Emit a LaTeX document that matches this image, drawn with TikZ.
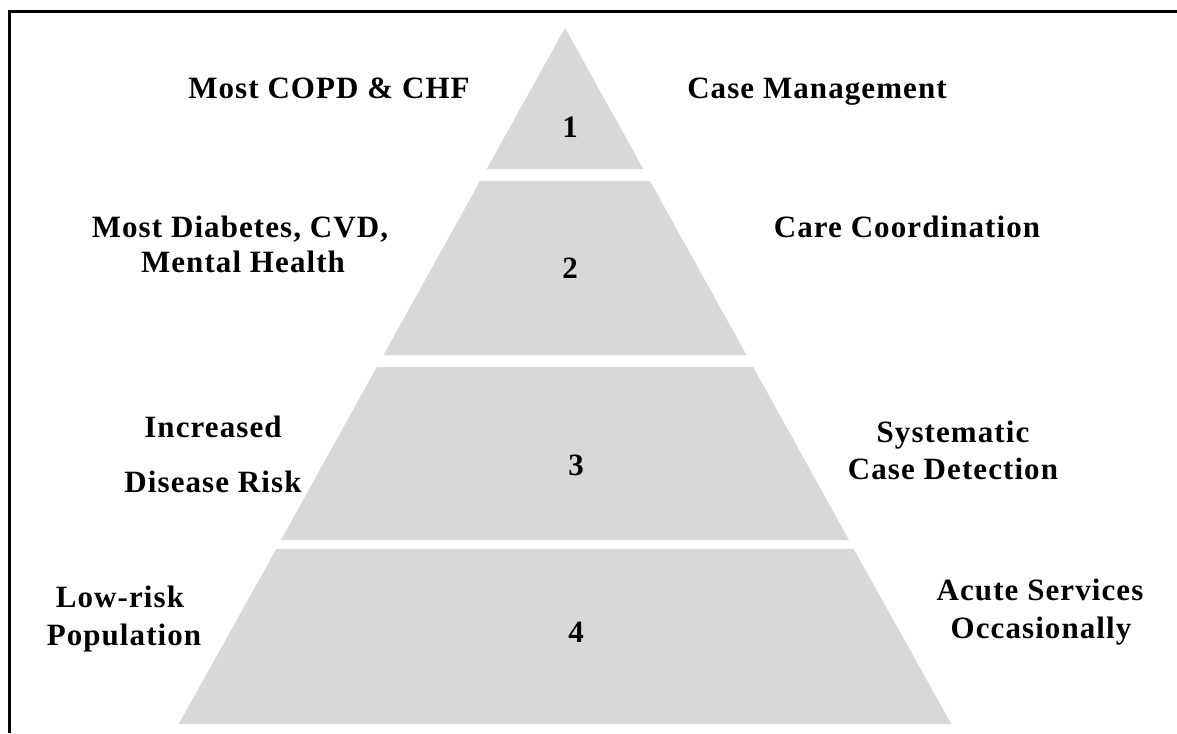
\documentclass[tikz,border=0pt]{standalone}
\usepackage{fontspec}
\setmainfont{Liberation Serif}[LetterSpace=3.5]
\definecolor{tierfill}{RGB}{216,216,216}
\begin{document}
\begin{tikzpicture}[x=1pt,y=-1pt,
  tier/.style={fill=tierfill},
  lbl/.style={anchor=base,inner sep=0pt,font=\fontsize{31}{37}\selectfont\bfseries},
  num/.style={lbl}]
\useasboundingbox (0,0) rectangle (1177,733);
% frame (top and left edges)
\draw[line width=3.5pt] (9.5,733) -- (9.5,11.5) -- (1177,11.5);

% pyramid tiers
\fill[tier] (565,28) -- (643.3,169) -- (486.7,169) -- cycle;
\fill[tier] (480.1,181) -- (649.9,181) -- (746.5,355) -- (383.5,355) -- cycle;
\fill[tier] (376.8,367) -- (753.2,367) -- (849,540) -- (281,540) -- cycle;
\fill[tier] (276.3,549) -- (853.7,549) -- (951.3,724) -- (178.7,724) -- cycle;

% tier numbers
\node[num] (n1) at (570,137) {1};
\node[num] (n2) at (570,278) {2};
\node[num] (n3) at (576,475) {3};
\node[num] (n4) at (576,642) {4};

% population groups (left)
\node[lbl] (p1)  at (329,99)  {Most COPD \& CHF};
\node[lbl] (p2a) at (240,237) {Most Diabetes, CVD,};
\node[lbl] (p2b) at (243,272) {Mental Health};
\node[lbl] (p3a) at (213,437) {Increased};
\node[lbl] (p3b) at (213,492) {Disease Risk};
\node[lbl] (p4a) at (120,607) {Low-risk};
\node[lbl] (p4b) at (124,645) {Population};

% interventions (right)
\node[lbl] (s1)  at (817,99)  {Case Management};
\node[lbl] (s2)  at (907,237) {Care Coordination};
\node[lbl] (s3a) at (953,442) {Systematic};
\node[lbl] (s3b) at (953,479) {Case Detection};
\node[lbl] (s4a) at (1040,600) {Acute Services};
\node[lbl] (s4b) at (1041,638) {Occasionally};
\end{tikzpicture}
\end{document}
